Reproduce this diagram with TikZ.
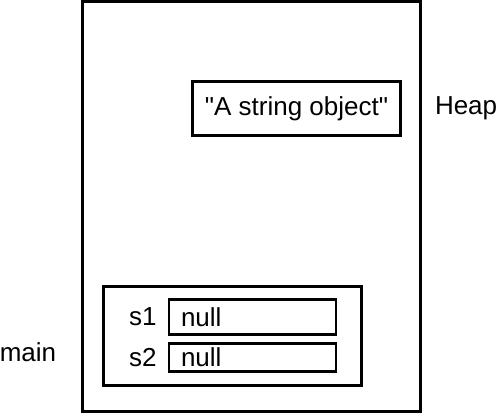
\documentclass[tikz,border=0pt]{standalone}
\usepackage{fontspec}
\setmainfont{Liberation Sans}[Ligatures=TeXOff]
\usetikzlibrary{positioning}
\tikzstyle{area} = [rectangle, draw, line width=2.6pt, inner sep=0pt]
\tikzstyle{field} = [area, minimum width=167pt, text width=143pt, align=left, inner xsep=12pt]
\tikzstyle{txt} = [inner sep=0pt]

\begin{document}
\begin{tikzpicture}[x=1pt, y=-1pt, font=\fontsize{26}{30}\selectfont]
\useasboundingbox (0,0) rectangle (500,414);
% Memory area
\node (memory) [area, minimum width=338pt, minimum height=410pt] at (251.5,206.5) {};

% Object on the heap
\node (strobj) [area, minimum width=208pt, minimum height=54pt] at (296.5,108.5) {"A string object"};
\node (heap) [txt, right=33pt of strobj] {Heap};

% Stack frame of main
\node (frame) [area, minimum width=258pt, minimum height=99pt] at (232.5,336) {};
\node (s1box) [field, minimum height=35pt] at (252.5,317) {null};
\node (s2box) [field, minimum height=28pt] at (252.5,357.5) {null};
\node (s1) [txt, left=11pt of s1box] {s1};
\node (s2) [txt, left=11pt of s2box] {s2};
\node (main) [txt] at (28,352) {main};

\end{tikzpicture}
\end{document}
